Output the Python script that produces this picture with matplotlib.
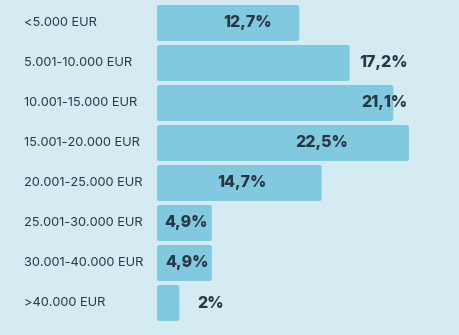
import matplotlib.pyplot as plt
from matplotlib.patches import FancyBboxPatch
from matplotlib.transforms import blended_transform_factory

categories = ["<5.000 EUR", "5.001-10.000 EUR", "10.001-15.000 EUR", "15.001-20.000 EUR",
              "20.001-25.000 EUR", "25.001-30.000 EUR", "30.001-40.000 EUR", ">40.000 EUR"]
shares = [12.7, 17.2, 21.1, 22.5, 14.7, 4.9, 4.9, 2.0]
share_labels = ["12,7%", "17,2%", "21,1%", "22,5%", "14,7%", "4,9%", "4,9%", "2%"]

# where each value label sits (x centre, in percent units)
label_x = [8.1, 20.2, 20.3, 14.7, 7.6, 2.6, 2.7, 4.8]

bg = "#d5ebf2"
bar_color = "#80c9de"
text_color = "#2a3645"

fig = plt.figure(figsize=(4.59, 3.35), dpi=100, facecolor=bg)
ax = fig.add_axes([157 / 459, 0, 1 - 157 / 459, 1])
ax.set_facecolor(bg)
ax.set_xlim(0, 302 / 11.2)
ax.set_ylim((335 - 23) / 40, -23 / 40)
ax.axis("off")

bar_h = 0.9
for i, v in enumerate(shares):
    box = FancyBboxPatch((0, i - bar_h / 2), v, bar_h,
                         boxstyle="round,pad=0,rounding_size=0.2",
                         mutation_aspect=11.2 / 40,
                         fc=bar_color, ec="none")
    ax.add_patch(box)
    ax.text(label_x[i], i, share_labels[i], ha="center", va="center",
            fontsize=11.5, fontweight="heavy", family="Inter", color=text_color)

trans = blended_transform_factory(fig.transFigure, ax.transData)
for i, cat in enumerate(categories):
    ax.text(24 / 459, i, cat, transform=trans, ha="left", va="center",
            fontsize=9.2, family="Inter", color=text_color, clip_on=False)

fig.savefig("out.png", dpi=100, facecolor=bg)
